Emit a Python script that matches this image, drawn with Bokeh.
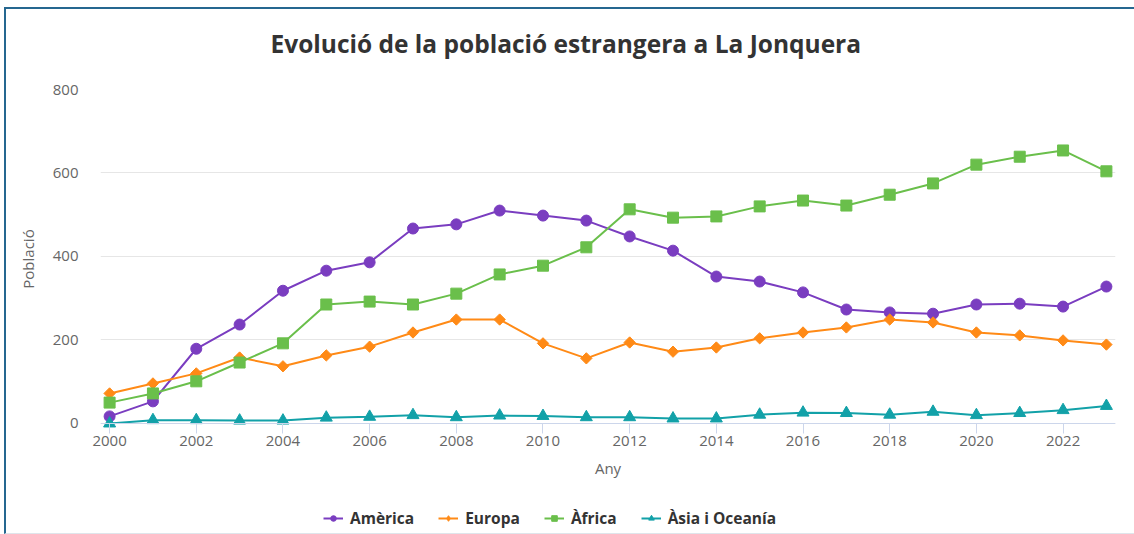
from bokeh.plotting import figure
from bokeh.layouts import column
from bokeh.models import FixedTicker, Span, Legend, LegendItem, Range1d
from bokeh.embed import file_html
from bokeh.resources import INLINE
import numpy as np

years = list(range(2000, 2024))
america = [17, 53, 179, 237, 318, 366, 386, 467, 477, 510, 498, 486, 448, 414, 352, 340, 314, 273, 266, 263, 285, 287, 280, 328]
europa = [72, 96, 120, 158, 137, 163, 184, 218, 249, 249, 192, 156, 194, 172, 182, 204, 218, 230, 249, 242, 218, 211, 199, 189]
africa = [50, 72, 101, 146, 192, 285, 292, 285, 311, 357, 378, 422, 513, 493, 496, 520, 534, 522, 548, 575, 620, 639, 654, 604]
asia = [0, 8, 8, 7, 7, 14, 16, 20, 15, 19, 18, 15, 15, 12, 12, 21, 26, 25, 21, 28, 20, 25, 32, 42]
series_names = ["Amèrica", "Europa", "Àfrica", "Àsia i Oceanía"]
x_ticks = list(range(2000, 2023, 2))
y_ticks = [0, 200, 400, 600, 800]
title_text = "Evolució de la població estrangera a La Jonquera"

FONT = "Open Sans"
colors = ["#7a3dc0", "#ff8a16", "#6abf4b", "#12a1a8"]
markers = [("circle", 11, 0), ("square", 8, np.pi / 4), ("square", 11, 0), ("triangle", 12, 0)]
legend_markers = ["circle", "diamond", "square", "triangle"]


def blank(fig):
    fig.outline_line_color = None
    fig.xgrid.grid_line_color = None
    fig.ygrid.grid_line_color = None
    fig.background_fill_color = "white"
    fig.border_fill_color = "white"


# title strip
p0 = figure(width=1128, height=51, output_backend="svg", toolbar_location=None,
            x_range=Range1d(0, 1), y_range=Range1d(0, 1),
            x_axis_location=None, y_axis_location=None, title=title_text,
            min_border_left=94, min_border_right=19, min_border_top=50, min_border_bottom=0)
blank(p0)
p0.title.align = "left"
p0.title.offset = 170
p0.title.standoff = 0
p0.title.text_font = FONT
p0.title.text_font_size = "24.5px"
p0.title.text_font_style = "bold"
p0.title.text_color = "#333333"

# main chart
p = figure(width=1128, height=429, output_backend="svg", toolbar_location=None,
           x_range=Range1d(1999.79, 2023.21), y_range=Range1d(-12, 800),
           min_border_left=94, min_border_right=19, min_border_top=29, min_border_bottom=61)
p.outline_line_color = None
p.background_fill_color = "white"
p.border_fill_color = "white"

p.xgrid.grid_line_color = None
p.ygrid.grid_line_color = "#e6e6e6"
p.ygrid.ticker = FixedTicker(ticks=y_ticks)

xa = p.xaxis[0]
xa.ticker = FixedTicker(ticks=x_ticks)
xa.axis_line_color = None
xa.major_tick_line_color = "#ccd6eb"
xa.major_tick_in = 5
xa.major_tick_out = 5
xa.minor_tick_line_color = None
xa.major_label_text_font = FONT
xa.major_label_text_font_size = "15px"
xa.major_label_text_color = "#666666"
xa.major_label_standoff = 2
xa.axis_label = "Any"
xa.axis_label_text_font = FONT
xa.axis_label_text_font_size = "15px"
xa.axis_label_text_font_style = "normal"
xa.axis_label_text_color = "#666666"
xa.axis_label_standoff = 9

ya = p.yaxis[0]
ya.ticker = FixedTicker(ticks=y_ticks)
ya.axis_line_color = None
ya.major_tick_line_color = None
ya.minor_tick_line_color = None
ya.major_tick_out = 0
ya.major_tick_in = 0
ya.major_label_text_font = FONT
ya.major_label_text_font_size = "15px"
ya.major_label_text_color = "#666666"
ya.major_label_standoff = 22
ya.axis_label = "Població"
ya.axis_label_text_font = FONT
ya.axis_label_text_font_size = "15px"
ya.axis_label_text_font_style = "normal"
ya.axis_label_text_color = "#666666"
ya.axis_label_standoff = 12

p.add_layout(Span(location=0, dimension="width", line_color="#ccd6eb", line_width=1))

# legend strip (its own glyphs fall outside its view; only the legend shows)
p2 = figure(width=1128, height=44, output_backend="svg", toolbar_location=None,
            x_range=Range1d(0, 1), y_range=Range1d(0, 1),
            x_axis_location=None, y_axis_location=None,
            min_border_left=94, min_border_right=19, min_border_top=0, min_border_bottom=0)
blank(p2)

data = [america, europa, africa, asia]
items = []
for name, vals, col, (mk, sz, ang), lmk in zip(series_names, data, colors, markers, legend_markers):
    p.line(years, vals, line_color=col, line_width=2)
    p.scatter(years, vals, marker=mk, size=sz, angle=ang, fill_color=col, line_color=col)
    l2 = p2.line(years, vals, line_color=col, line_width=2)
    s2 = p2.scatter(years, vals, marker=lmk, size=sz, fill_color=col, line_color=col)
    items.append(LegendItem(label=name, renderers=[l2, s2]))

legend = Legend(items=items, orientation="horizontal", location=(223, 4),
                border_line_color=None, background_fill_alpha=0, padding=0, margin=0,
                spacing=24, label_text_font=FONT, label_text_font_style="bold",
                label_text_font_size="15.5px", label_text_color="#333333",
                glyph_width=20, glyph_height=14, label_standoff=7)
p2.add_layout(legend, "center")

layout = column(p0, p, p2, spacing=0)
layout.styles = {"margin-left": "4px", "margin-top": "7px",
                 "border-left": "2px solid #256790", "border-top": "2px solid #256790",
                 "border-bottom": "1px solid #dfe5eb"}

open("out.html", "w").write(file_html(layout, INLINE))
